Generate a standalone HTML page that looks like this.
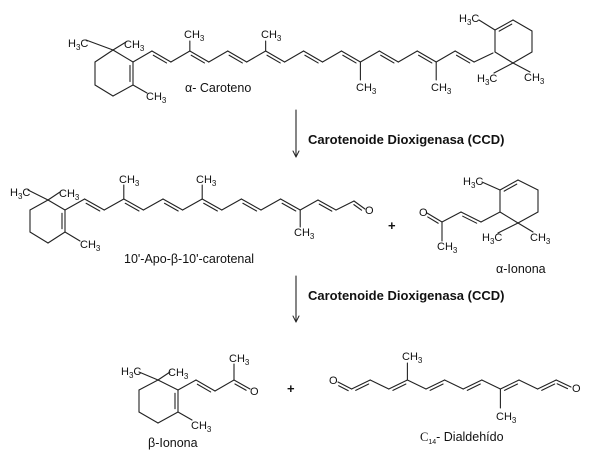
<!DOCTYPE html>
<html><head><meta charset="utf-8"><style>
html,body{margin:0;padding:0;background:#fff;width:600px;height:461px;overflow:hidden}
svg{display:block}
text{font-family:"Liberation Sans",Arial,sans-serif;fill:#111}
.a{font-size:11px}
.l{font-size:12.5px}
.b{font-size:13px;font-weight:bold}
</style></head><body>
<svg id="s" width="600" height="461" viewBox="0 0 600 461" xmlns="http://www.w3.org/2000/svg">
<g id="g" stroke="#222" stroke-width="1.1" fill="none" stroke-linecap="round"></g>
<!-- Row 1 labels -->
<text class="a" x="68" y="47">H<tspan font-size="8" dy="3">3</tspan><tspan dy="-3">C</tspan></text>
<text class="a" x="124" y="48">CH<tspan font-size="8" dy="3">3</tspan></text>
<text class="a" x="146" y="100">CH<tspan font-size="8" dy="3">3</tspan></text>
<text class="a" x="184" y="38">CH<tspan font-size="8" dy="3">3</tspan></text>
<text class="a" x="261" y="38">CH<tspan font-size="8" dy="3">3</tspan></text>
<text class="a" x="356" y="91">CH<tspan font-size="8" dy="3">3</tspan></text>
<text class="a" x="431" y="91">CH<tspan font-size="8" dy="3">3</tspan></text>
<text class="a" x="459" y="22">H<tspan font-size="8" dy="3">3</tspan><tspan dy="-3">C</tspan></text>
<text class="a" x="477" y="82">H<tspan font-size="8" dy="3">3</tspan><tspan dy="-3">C</tspan></text>
<text class="a" x="524" y="81">CH<tspan font-size="8" dy="3">3</tspan></text>
<text class="l" x="185" y="92">α- Caroteno</text>
<!-- Arrow 1 -->
<text class="b" x="308" y="144">Carotenoide Dioxigenasa (CCD)</text>
<!-- Row 2 labels -->
<text class="a" x="10" y="196">H<tspan font-size="8" dy="3">3</tspan><tspan dy="-3">C</tspan></text>
<text class="a" x="59" y="197">CH<tspan font-size="8" dy="3">3</tspan></text>
<text class="a" x="80" y="248">CH<tspan font-size="8" dy="3">3</tspan></text>
<text class="a" x="119" y="183">CH<tspan font-size="8" dy="3">3</tspan></text>
<text class="a" x="196" y="183">CH<tspan font-size="8" dy="3">3</tspan></text>
<text class="a" x="294" y="236">CH<tspan font-size="8" dy="3">3</tspan></text>
<text class="a" x="365" y="214">O</text>
<text class="l" x="124" y="263">10'-Apo-β-10'-carotenal</text>
<text class="b" x="388" y="230">+</text>
<text class="a" x="419" y="216">O</text>
<text class="a" x="437" y="250">CH<tspan font-size="8" dy="3">3</tspan></text>
<text class="a" x="463" y="185">H<tspan font-size="8" dy="3">3</tspan><tspan dy="-3">C</tspan></text>
<text class="a" x="482" y="241">H<tspan font-size="8" dy="3">3</tspan><tspan dy="-3">C</tspan></text>
<text class="a" x="530" y="241">CH<tspan font-size="8" dy="3">3</tspan></text>
<text class="l" x="496" y="273">α-Ionona</text>
<!-- Arrow 2 -->
<text class="b" x="308" y="300">Carotenoide Dioxigenasa (CCD)</text>
<!-- Row 3 labels -->
<text class="a" x="121" y="375">H<tspan font-size="8" dy="3">3</tspan><tspan dy="-3">C</tspan></text>
<text class="a" x="168" y="376">CH<tspan font-size="8" dy="3">3</tspan></text>
<text class="a" x="191" y="429">CH<tspan font-size="8" dy="3">3</tspan></text>
<text class="a" x="229" y="362">CH<tspan font-size="8" dy="3">3</tspan></text>
<text class="a" x="250" y="395">O</text>
<text class="l" x="148" y="447">β-Ionona</text>
<text class="b" x="287" y="393">+</text>
<text class="a" x="329" y="384">O</text>
<text class="a" x="402" y="360">CH<tspan font-size="8" dy="3">3</tspan></text>
<text class="a" x="496" y="420">CH<tspan font-size="8" dy="3">3</tspan></text>
<text class="a" x="572" y="392">O</text>
<text class="l" x="420" y="441"><tspan font-family="Liberation Serif">C</tspan><tspan font-size="7" dy="3">14</tspan><tspan dy="-3">- Dialdehído</tspan></text>
</svg>
<script>
var g=document.getElementById('g'),NS='http://www.w3.org/2000/svg';
function L(a,b,c,d,w){var e=document.createElementNS(NS,'line');e.setAttribute('x1',a);e.setAttribute('y1',b);e.setAttribute('x2',c);e.setAttribute('y2',d);if(w)e.setAttribute('stroke-width',w);g.appendChild(e);}
function B(p,q,dbl,cx,cy){L(p[0],p[1],q[0],q[1]);if(!dbl)return;
 var dx=q[0]-p[0],dy=q[1]-p[1],len=Math.hypot(dx,dy),nx=-dy/len,ny=dx/len;
 if(cx!==undefined){var mx=(p[0]+q[0])/2-cx,my=(p[1]+q[1])/2-cy;if(nx*mx+ny*my>0){nx=-nx;ny=-ny;}}
 else if(ny<0){nx=-nx;ny=-ny;}
 var o=3,s=0.15;
 L(p[0]+dx*s+nx*o,p[1]+dy*s+ny*o,q[0]-dx*s+nx*o,q[1]-dy*s+ny*o);}
function ring(v,dblIdx,cx,cy){for(var i=0;i<6;i++){var a=v[i],b=v[(i+1)%6];B(a,b,i===dblIdx,cx,cy);}}
function chain(pts,dbl){for(var i=0;i<pts.length-1;i++)B(pts[i],pts[i+1],dbl.indexOf(i)>=0);}
// Row1 left ring: top,UR,LR,bottom,LL,UL
ring([[113,50],[133,62],[133,85],[113,96],[95,85],[95,62]],1,114,73);
L(113,50,86,40);L(113,50,126,42);L(133,85,147,93);
var P=[];for(var i=0;i<20;i++)P.push([133+18.95*i,i%2?51:62]);
P[19]=[493,53];
chain(P,[1,3,5,7,9,11,13,15,17]);
L(P[3][0],P[3][1],P[3][0],41);L(P[7][0],P[7][1],P[7][0],41);
L(P[12][0],P[12][1],P[12][0],80);L(P[16][0],P[16][1],P[16][0],80);
// Row1 right ring
ring([[495,52],[495,30],[513,20],[532,31],[532,52],[513,63]],1,514,41);
L(495,30,479,20);L(513,63,494,73);L(513,63,530,72);
// Row2 ring
ring([[48,200],[65,210],[65,232],[48,243],[30,232],[30,210]],1,48,221);
L(48,200,28,190);L(48,200,60,192);L(65,232,80,241);
var Q=[];for(var i=0;i<13;i++)Q.push([65+19.6*i,i%2?199:210]);
Q.push([318,200]);Q.push([336,210]);Q.push([354,201]);
// fix: Q indices 0..12 then 13..15
Q[13]=[318,200];Q[14]=[336,210];Q[15]=[354,201];Q.length=16;
chain(Q,[1,3,5,7,9,11,13]);
B(Q[15],[365,209],true);
L(Q[3][0],Q[3][1],Q[3][0],185);L(Q[7][0],Q[7][1],Q[7][0],185);L(Q[12][0],Q[12][1],Q[12][0],227);
// alpha-ionone
B([427,213],[442,222],true);L(442,222,442,241);
B([442,222],[461,212],false);B([461,212],[481,222],true);B([481,222],[500,212],false);
ring([[500,212],[500,190],[518,180],[538,190],[538,212],[518,223]],1,519,201);
L(500,190,482,182);L(518,223,498,233);L(518,223,533,232);
// Row3 beta-ionone
ring([[158,380],[178,390],[178,412],[158,423],[139,412],[139,390]],1,158,401);
L(158,380,139,372);L(158,380,170,372);L(178,412,192,420);
B([178,390],[196,380],false);B([196,380],[215,391],true);B([215,391],[234,380],false);
B([234,380],[250,389],true);L(234,380,234,364);
// dialdehyde
var D=[];for(var i=0;i<14;i++)D.push([333+18.6*i,i%2?389:380]);
B([338,382],D[1],true);
for(var i=1;i<12;i++)B(D[i],D[i+1],i%2===1);
B(D[12],[571,387],true);
L(D[4][0],D[4][1],D[4][0],363);L(D[9][0],D[9][1],D[9][0],408);
// arrows
L(296,110,296,156);L(293,151,296,157,1);L(299,151,296,157,1);
L(296,276,296,321);L(293,316,296,322,1);L(299,316,296,322,1);
</script>
</body></html>
